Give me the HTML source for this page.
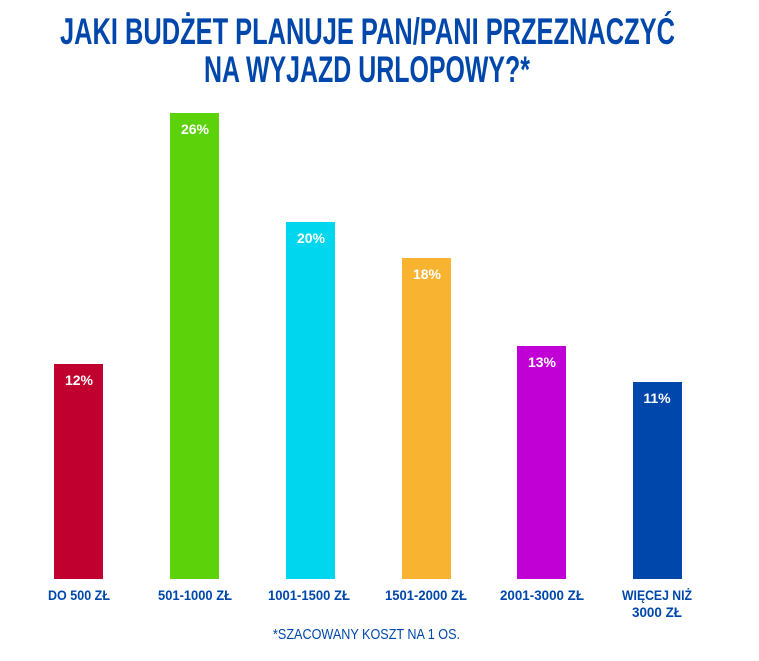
<!DOCTYPE html>
<html><head><meta charset="utf-8"><style>
html,body{margin:0;padding:0;background:#fff;width:759px;height:661px;overflow:hidden}
svg{display:block}
text{font-family:"Liberation Sans Narrow","Liberation Sans",sans-serif;font-weight:bold}
</style></head><body>
<svg width="759" height="661" viewBox="0 0 759 661">
<g fill="#0047AB">
<text x="60" y="44" font-size="37" textLength="615" lengthAdjust="spacingAndGlyphs">JAKI BUDŻET PLANUJE PAN/PANI PRZEZNACZYĆ</text>
<text x="204" y="82" font-size="37" textLength="326" lengthAdjust="spacingAndGlyphs">NA WYJAZD URLOPOWY?*</text>
</g>
<rect x="54" y="364" width="49" height="215" fill="#C0002E"/>
<rect x="170" y="113" width="49" height="466" fill="#5CD20A"/>
<rect x="286" y="222" width="49" height="357" fill="#00D7EE"/>
<rect x="402" y="258" width="49" height="321" fill="#F8B331"/>
<rect x="517" y="346" width="49" height="233" fill="#C000D4"/>
<rect x="633" y="382" width="49" height="197" fill="#0047AB"/>
<g fill="#fff" font-size="14" text-anchor="middle">
<text x="79" y="385">12%</text>
<text x="195" y="134">26%</text>
<text x="311" y="243">20%</text>
<text x="427" y="279">18%</text>
<text x="542" y="367">13%</text>
<text x="657" y="403">11%</text>
</g>
<g fill="#0047AB" font-size="13.5" text-anchor="middle">
<text x="79" y="600" textLength="62" lengthAdjust="spacingAndGlyphs">DO 500 ZŁ</text>
<text x="195" y="600" textLength="74" lengthAdjust="spacingAndGlyphs">501-1000 ZŁ</text>
<text x="309" y="600" textLength="82" lengthAdjust="spacingAndGlyphs">1001-1500 ZŁ</text>
<text x="426" y="600" textLength="82" lengthAdjust="spacingAndGlyphs">1501-2000 ZŁ</text>
<text x="542" y="600" textLength="84" lengthAdjust="spacingAndGlyphs">2001-3000 ZŁ</text>
<text x="657" y="600" textLength="70" lengthAdjust="spacingAndGlyphs">WIĘCEJ NIŻ</text>
<text x="657" y="617" textLength="50" lengthAdjust="spacingAndGlyphs">3000 ZŁ</text>
</g>
<text x="273" y="639" fill="#0047AB" font-size="15" font-weight="normal" style="font-weight:normal" textLength="187" lengthAdjust="spacingAndGlyphs">*SZACOWANY KOSZT NA 1 OS.</text>
</svg>
</body></html>
